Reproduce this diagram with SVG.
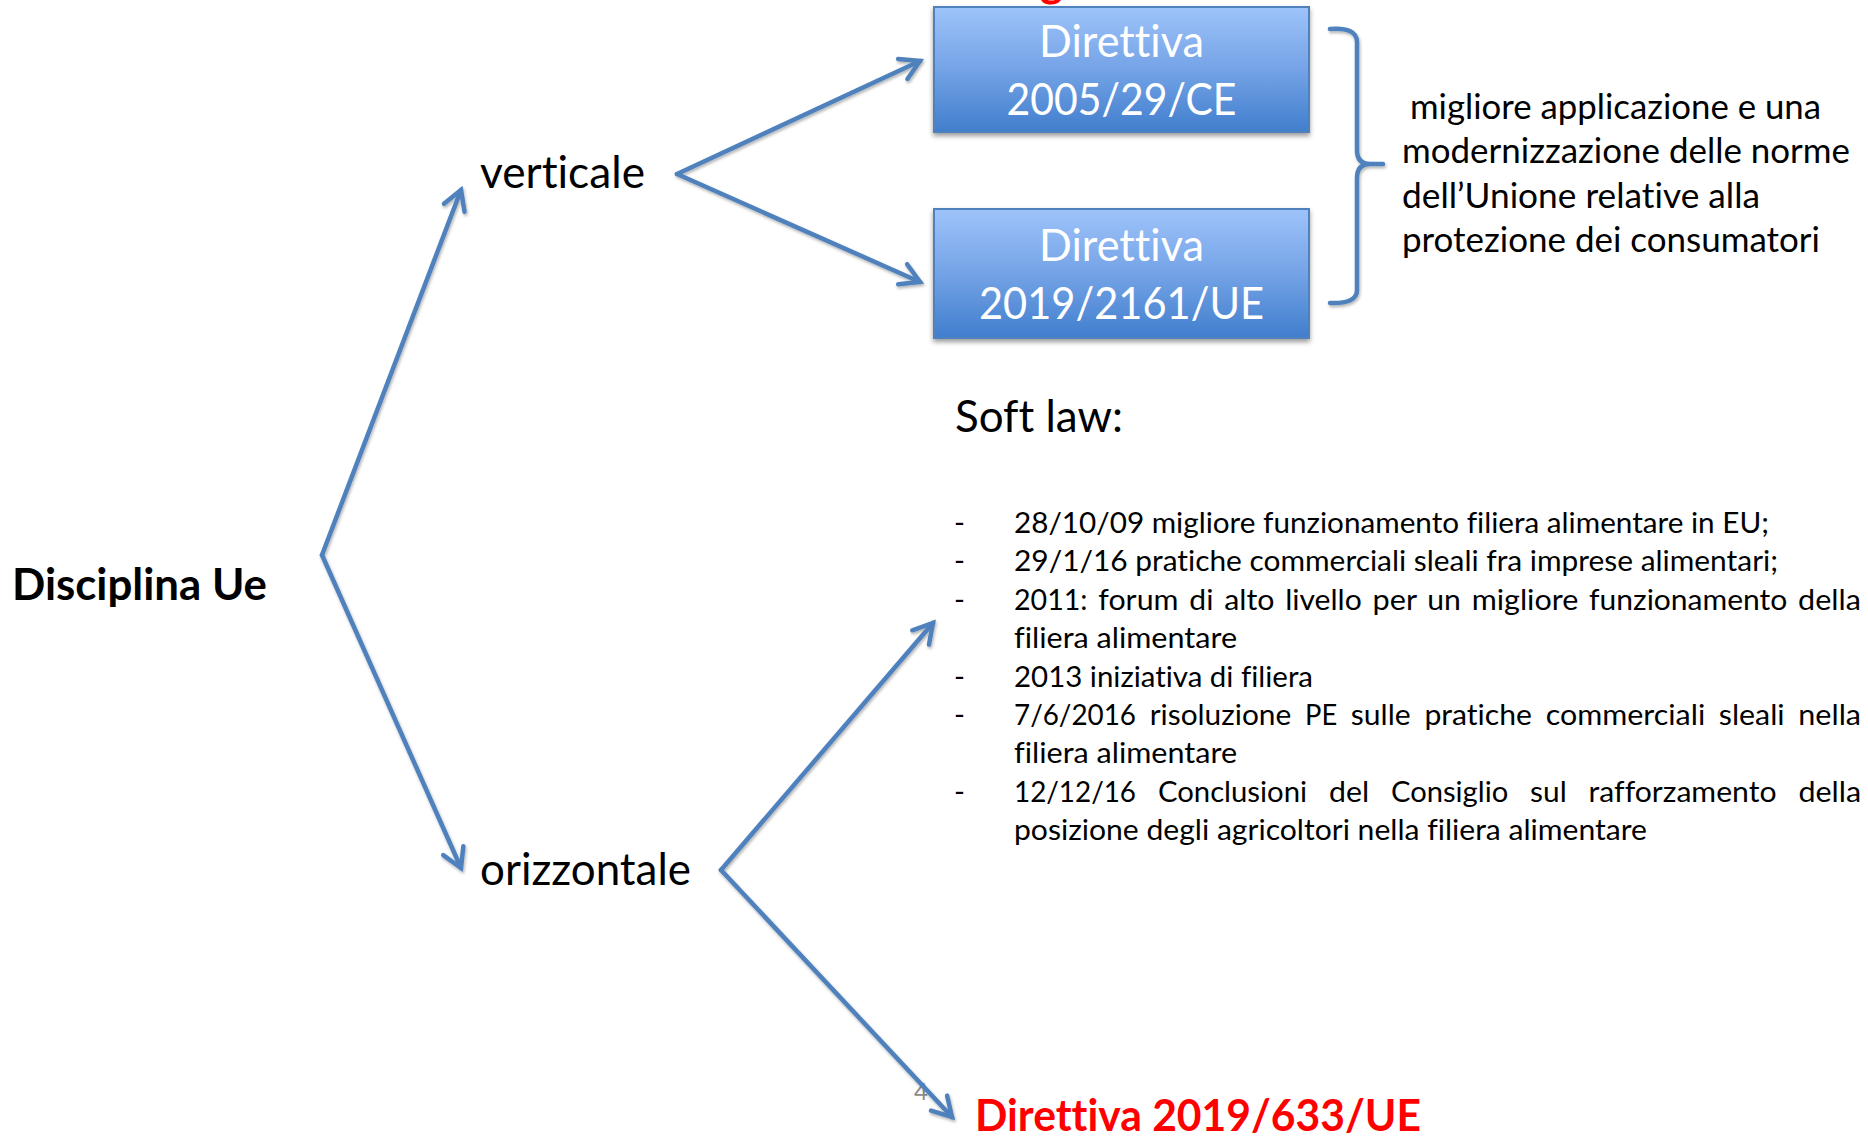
<svg xmlns="http://www.w3.org/2000/svg" width="1868" height="1137" viewBox="0 0 1868 1137">
<style>
  text { font-variant-ligatures: none; font-feature-settings: "liga" 0, "clig" 0, "dlig" 0; }
  .t { font-family: "Lato", "Open Sans", sans-serif; fill: #000; }
  .big { font-size: 44px; }
  .bold { font-weight: bold; }
  .box-t { font-family: "Lato", "Open Sans", sans-serif; font-size: 44px; fill: #fff; text-anchor: middle; }
  .brace-t { font-family: "Lato", "Open Sans", sans-serif; font-size: 34.3px; fill: #000; }
  .li { font-family: "Lato", "Open Sans", sans-serif; font-size: 29.5px; fill: #000; }
  .conn { stroke: #4F81BD; stroke-width: 4.5; fill: none; stroke-linecap: round; marker-end: url(#arr); }
  .box { fill: url(#boxGrad); stroke: #4F81BD; stroke-width: 2; }
</style>
<defs>
  <linearGradient id="boxGrad" x1="0" y1="0" x2="0" y2="1">
    <stop offset="0" stop-color="#9EC3FA"/>
    <stop offset="0.5" stop-color="#74A3E6"/>
    <stop offset="1" stop-color="#417ECD"/>
  </linearGradient>
  <marker id="arr" markerUnits="userSpaceOnUse" markerWidth="40" markerHeight="40" viewBox="-30 -20 40 40" refX="0" refY="0" orient="auto" overflow="visible">
    <path d="M-19,-11 L0,0 L-19,11" fill="none" stroke="#4F81BD" stroke-width="4.5" stroke-linecap="round" stroke-linejoin="miter"/>
  </marker>
  <filter id="lineShadow" x="-10%" y="-10%" width="120%" height="120%">
    <feDropShadow dx="1" dy="2" stdDeviation="1.5" flood-color="#000" flood-opacity="0.3"/>
  </filter>
  <filter id="boxShadow" x="-5%" y="-10%" width="110%" height="130%">
    <feDropShadow dx="0" dy="3" stdDeviation="2.5" flood-color="#000" flood-opacity="0.4"/>
  </filter>
</defs>
<rect width="1868" height="1137" fill="#fff"/>

<!-- partial red title glyph cut at top (as in the reference) -->
<text class="t bold" x="1040" y="-3" font-size="44" style="fill:#FF0000">g</text>

<!-- page number -->
<text x="914" y="1100" font-family="Lato, 'Open Sans', sans-serif" font-size="24" fill="#8C8C8C">4</text>

<g id="node-disciplina">
  <text class="t big bold" x="12" y="600" textLength="255" lengthAdjust="spacingAndGlyphs">Disciplina Ue</text>
</g>
<g id="node-verticale">
  <text class="t big" x="480" y="188" textLength="165" lengthAdjust="spacingAndGlyphs">verticale</text>
</g>
<g id="node-orizzontale">
  <text class="t big" x="480" y="885" textLength="211" lengthAdjust="spacingAndGlyphs">orizzontale</text>
</g>

<g id="node-dir2005">
  <rect class="box" x="934" y="7" width="375" height="125" filter="url(#boxShadow)"/>
  <text class="box-t" x="1121.5" y="57" textLength="165" lengthAdjust="spacingAndGlyphs">Direttiva</text>
  <text class="box-t" x="1121.5" y="115" textLength="230" lengthAdjust="spacingAndGlyphs">2005/29/CE</text>
</g>
<g id="node-dir2019-2161">
  <rect class="box" x="934" y="209" width="375" height="129" filter="url(#boxShadow)"/>
  <text class="box-t" x="1121.5" y="261" textLength="165" lengthAdjust="spacingAndGlyphs">Direttiva</text>
  <text class="box-t" x="1121.5" y="319" textLength="285" lengthAdjust="spacingAndGlyphs">2019/2161/UE</text>
</g>

<g id="node-brace">
  <path d="M1330,29 Q1357,27 1357,42 L1357,150 Q1357,164 1370,164 L1383,164 M1370,164 Q1357,164 1357,178 L1357,290 Q1357,304 1330,303" fill="none" stroke="#4F81BD" stroke-width="4.5" stroke-linecap="round" filter="url(#lineShadow)"/>
</g>

<g id="node-brace-text">
  <text class="brace-t" x="1410" y="118.5" textLength="411" lengthAdjust="spacingAndGlyphs">migliore applicazione e una</text>
  <text class="brace-t" x="1402" y="163" textLength="448" lengthAdjust="spacingAndGlyphs">modernizzazione delle norme</text>
  <text class="brace-t" x="1402" y="207.5" textLength="358" lengthAdjust="spacingAndGlyphs">dell’Unione relative alla</text>
  <text class="brace-t" x="1402" y="252" textLength="418" lengthAdjust="spacingAndGlyphs">protezione dei consumatori</text>
</g>

<g id="node-softlaw">
  <text class="t big" x="955" y="432" textLength="168" lengthAdjust="spacingAndGlyphs">Soft law:</text>
</g>

<g id="node-softlaw-list">
  <text class="li" x="954" y="533">-</text>
  <text class="li" x="1014" y="533" textLength="755" lengthAdjust="spacingAndGlyphs">28/10/09 migliore funzionamento filiera alimentare in EU;</text>

  <text class="li" x="954" y="571.4">-</text>
  <text class="li" x="1014" y="571.4" textLength="764" lengthAdjust="spacingAndGlyphs">29/1/16 pratiche commerciali sleali fra imprese alimentari;</text>

  <text class="li" x="954" y="609.8">-</text>
  <text class="li" y="609.8">
    <tspan x="1014" textLength="73.5" lengthAdjust="spacingAndGlyphs">2011:</tspan>
    <tspan x="1098.3" textLength="80.2" lengthAdjust="spacingAndGlyphs">forum</tspan>
    <tspan x="1189.3" textLength="24.1" lengthAdjust="spacingAndGlyphs">di</tspan>
    <tspan x="1224.2" textLength="50.2" lengthAdjust="spacingAndGlyphs">alto</tspan>
    <tspan x="1285.2" textLength="76.6" lengthAdjust="spacingAndGlyphs">livello</tspan>
    <tspan x="1372.6" textLength="43.9" lengthAdjust="spacingAndGlyphs">per</tspan>
    <tspan x="1427.3" textLength="33.6" lengthAdjust="spacingAndGlyphs">un</tspan>
    <tspan x="1471.7" textLength="106.6" lengthAdjust="spacingAndGlyphs">migliore</tspan>
    <tspan x="1589.1" textLength="198.2" lengthAdjust="spacingAndGlyphs">funzionamento</tspan>
    <tspan x="1798.1" textLength="62.7" lengthAdjust="spacingAndGlyphs">della</tspan>
  </text>
  <text class="li" x="1014" y="648.2" textLength="223" lengthAdjust="spacingAndGlyphs">filiera alimentare</text>

  <text class="li" x="954" y="686.6">-</text>
  <text class="li" x="1014" y="686.6" textLength="299" lengthAdjust="spacingAndGlyphs">2013 iniziativa di filiera</text>

  <text class="li" x="954" y="725">-</text>
  <text class="li" y="725">
    <tspan x="1014" textLength="122" lengthAdjust="spacingAndGlyphs">7/6/2016</tspan>
    <tspan x="1149.7" textLength="141.6" lengthAdjust="spacingAndGlyphs">risoluzione</tspan>
    <tspan x="1305" textLength="32.2" lengthAdjust="spacingAndGlyphs">PE</tspan>
    <tspan x="1350.8" textLength="59.9" lengthAdjust="spacingAndGlyphs">sulle</tspan>
    <tspan x="1424.4" textLength="107.6" lengthAdjust="spacingAndGlyphs">pratiche</tspan>
    <tspan x="1545.7" textLength="159.5" lengthAdjust="spacingAndGlyphs">commerciali</tspan>
    <tspan x="1718.8" textLength="65.8" lengthAdjust="spacingAndGlyphs">sleali</tspan>
    <tspan x="1798.3" textLength="62.7" lengthAdjust="spacingAndGlyphs">nella</tspan>
  </text>
  <text class="li" x="1014" y="763.4" textLength="223" lengthAdjust="spacingAndGlyphs">filiera alimentare</text>

  <text class="li" x="954" y="801.8">-</text>
  <text class="li" y="801.8">
    <tspan x="1014" textLength="122" lengthAdjust="spacingAndGlyphs">12/12/16</tspan>
    <tspan x="1157.9" textLength="149.2" lengthAdjust="spacingAndGlyphs">Conclusioni</tspan>
    <tspan x="1329" textLength="40.1" lengthAdjust="spacingAndGlyphs">del</tspan>
    <tspan x="1391" textLength="117.2" lengthAdjust="spacingAndGlyphs">Consiglio</tspan>
    <tspan x="1530.1" textLength="36.6" lengthAdjust="spacingAndGlyphs">sul</tspan>
    <tspan x="1588.6" textLength="187.9" lengthAdjust="spacingAndGlyphs">rafforzamento</tspan>
    <tspan x="1798.4" textLength="62.7" lengthAdjust="spacingAndGlyphs">della</tspan>
  </text>
  <text class="li" x="1014" y="840.2" textLength="633" lengthAdjust="spacingAndGlyphs">posizione degli agricoltori nella filiera alimentare</text>
</g>

<g id="node-dir633">
  <text class="t big bold" x="975" y="1131" textLength="446" lengthAdjust="spacingAndGlyphs" style="fill:#FF0000">Direttiva 2019/633/UE</text>
</g>

<g id="connectors" filter="url(#lineShadow)">
  <line class="conn" x1="322" y1="555" x2="461" y2="190"/>
  <line class="conn" x1="322" y1="555" x2="461" y2="868"/>
  <line class="conn" x1="677" y1="174" x2="920" y2="61"/>
  <line class="conn" x1="677" y1="174" x2="920" y2="282"/>
  <line class="conn" x1="721" y1="870" x2="933" y2="623"/>
  <line class="conn" x1="721" y1="870" x2="952" y2="1117"/>
</g>
</svg>
